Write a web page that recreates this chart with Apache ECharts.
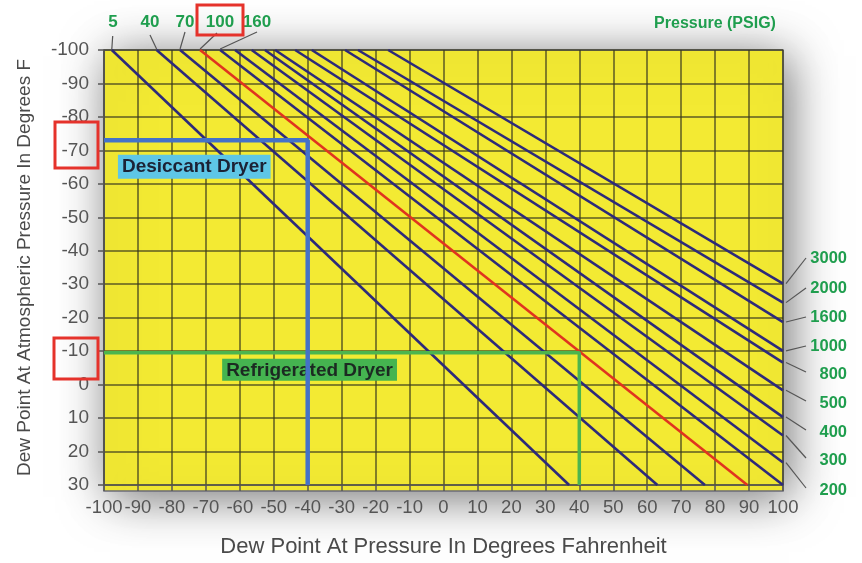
<!DOCTYPE html>
<html>
<head>
<meta charset="utf-8">
<script src="https://cdn.jsdelivr.net/npm/echarts/dist/echarts.min.js"></script>
<style>html,body{margin:0;padding:0;background:#fff;}#c{width:862px;height:563px;}</style>
</head>
<body>
<div id="c"></div>
<script>
// ---- data ----
const xTicks = [-100, 100, 10];          // min, max, interval (dew point at pressure)
const yTicks = [-100, 30, 10];           // min, max, interval (dew point at atmospheric)
const pressureLabels = ['5','40','70','100','160','200','300','400','500','800','1000','1600','2000','3000'];
const startX = [-97.7,-84.5,-77.6,-71.7,-65.8,-61.4,-56.5,-52.6,-49.6,-43.7,-38.8,-29.0,-25.2,-16.3]; // at atm -100
const startY = [-100,-100,-100,-100,-100,-100,-100,-100,-100,-100,-100,-100,-100,-100];
const endX = [37,63,77,89.5,100,100,100,100,100,100,100,100,100,100];
const endY = [30,30,30,30,30,23.3,15.2,9.7,1.7,-6.6,-10.1,-18.7,-24.5,-30.2];
const highlighted = '100';
const topLabels = ['5','40','70','100','160'];
const rightLabels = ['3000','2000','1600','1000','800','500','400','300','200'];
const desiccantX = [-100,-40,-40];
const desiccantY = [-73,-73,30];
const refrigeratedX = [-100,40,40];
const refrigeratedY = [-9.5,-9.5,30];

const chart = echarts.init(document.getElementById('c'));
const FONT = 'Liberation Sans, Arial, sans-serif';
const GRID = {left:104, top:50, width:679, height:441};

const series = pressureLabels.map((p,i)=>({
  type:'line', name:p, symbol:'none', silent:true,
  data:[[startX[i],startY[i]],[endX[i],endY[i]]],
  lineStyle:{color: p===highlighted ? '#e0341f' : '#2d2a7a', width:2.6},
  z:3
}));
series.push({type:'line', symbol:'none', silent:true, data:refrigeratedX.map((x,i)=>[x,refrigeratedY[i]]),
  lineStyle:{color:'#4cb54e', width:3.5}, z:4});
series.push({type:'line', symbol:'none', silent:true, data:desiccantX.map((x,i)=>[x,desiccantY[i]]),
  lineStyle:{color:'#4472c8', width:4.5}, z:6});

chart.setOption({
  animation:false,
  backgroundColor:'#ffffff',
  grid:Object.assign({show:false}, GRID),
  xAxis:{type:'value', min:xTicks[0], max:xTicks[1], interval:xTicks[2], position:'bottom',
    axisLine:{onZero:false, lineStyle:{color:'#555', width:1.5}},
    axisTick:{show:true, length:6, lineStyle:{color:'#555', width:1.5}},
    axisLabel:{color:'#555', fontSize:18.5, margin:13, fontFamily:FONT},
    splitLine:{show:true, lineStyle:{color:'rgba(55,55,30,0.8)', width:1.5}},
    name:'Dew Point At Pressure In Degrees Fahrenheit', nameLocation:'middle', nameGap:51,
    nameTextStyle:{color:'#4a4a4a', fontSize:22, fontFamily:FONT}
  },
  yAxis:{type:'value', inverse:true, min:yTicks[0], max:yTicks[1], interval:yTicks[2],
    axisLine:{show:true, onZero:false, lineStyle:{color:'#555', width:1.5}},
    axisTick:{show:true, length:6, lineStyle:{color:'#555', width:1.5}},
    axisLabel:{color:'#555', fontSize:19, margin:15, fontFamily:FONT},
    splitLine:{show:true, lineStyle:{color:'rgba(55,55,30,0.8)', width:1.5}},
    name:'Dew Point At Atmospheric Pressure In Degrees F', nameLocation:'middle', nameGap:70,
    nameTextStyle:{color:'#4a4a4a', fontSize:19, fontFamily:FONT}
  },
  series:series
});

function px(x,y){ return chart.convertToPixel({gridIndex:0},[x,y]); }
const g = [];
// plot background with halo
g.push({type:'rect', z:-10, shape:{x:GRID.left, y:GRID.top, width:GRID.width, height:GRID.height},
  style:{fill:'#f3ea33', stroke:'#6b6b78', lineWidth:1.5, shadowBlur:45, shadowColor:'rgba(0,0,0,0.55)', shadowOffsetX:6, shadowOffsetY:6}});
// top labels
const topPos = [[113,22],[150,22],[185,22],[220,22],[257,22]];
const topLead = [[112.7,36],[150,35],[185,32],[217,33],[257,32]];
topLabels.forEach((t,k)=>{
  const i = pressureLabels.indexOf(t);
  const e = px(startX[i], startY[i]);
  g.push({type:'line', z:5, shape:{x1:topLead[k][0], y1:topLead[k][1], x2:e[0], y2:e[1]-1}, style:{stroke:'#555', lineWidth:1.2}});
  g.push({type:'text', z:5, x:topPos[k][0], y:topPos[k][1], style:{text:t, fill:'#1f9e4e', font:'bold 17px '+FONT, textAlign:'center', textVerticalAlign:'middle'}});
});
g.push({type:'text', z:5, x:715, y:24, style:{text:'Pressure (PSIG)', fill:'#1f9e4e', font:'bold 16px '+FONT, textAlign:'center', textVerticalAlign:'middle'}});
// right labels
const rightY = [258,288,317,346,374,403,432,460,490];
rightLabels.forEach((t,k)=>{
  const i = pressureLabels.indexOf(t);
  const e = px(endX[i], endY[i]);
  g.push({type:'line', z:5, shape:{x1:e[0]+3, y1:e[1], x2:806, y2:rightY[k]+ (k<4?0:-2)}, style:{stroke:'#555', lineWidth:1.2}});
  g.push({type:'text', z:5, x:847, y:rightY[k], style:{text:t, fill:'#1f9e4e', font:'bold 16.5px '+FONT, textAlign:'right', textVerticalAlign:'middle'}});
});
// dryer labels
const dp = px(-95.9,-68.7);
g.push({type:'text', z:5, x:dp[0], y:dp[1], style:{text:'Desiccant Dryer', fill:'#1c2235', font:'bold 19px '+FONT,
  backgroundColor:'#5ec6e6', padding:[3,4,2,4]}});
const rp = px(-65.2,-7.7);
g.push({type:'text', z:5, x:rp[0], y:rp[1], style:{text:'Refrigerated Dryer', fill:'#1c2a22', font:'bold 19px '+FONT,
  backgroundColor:'#45b450', padding:[2,4,1,4]}});
// red highlight boxes
[[55,122,43,46],[54,338,44,41],[197,5,46,30]].forEach(r=>{
  g.push({type:'rect', z:7, shape:{x:r[0], y:r[1], width:r[2], height:r[3]}, style:{fill:'none', stroke:'#e5322b', lineWidth:3}});
});
chart.setOption({graphic:{elements:g}});
</script>
</body>
</html>
